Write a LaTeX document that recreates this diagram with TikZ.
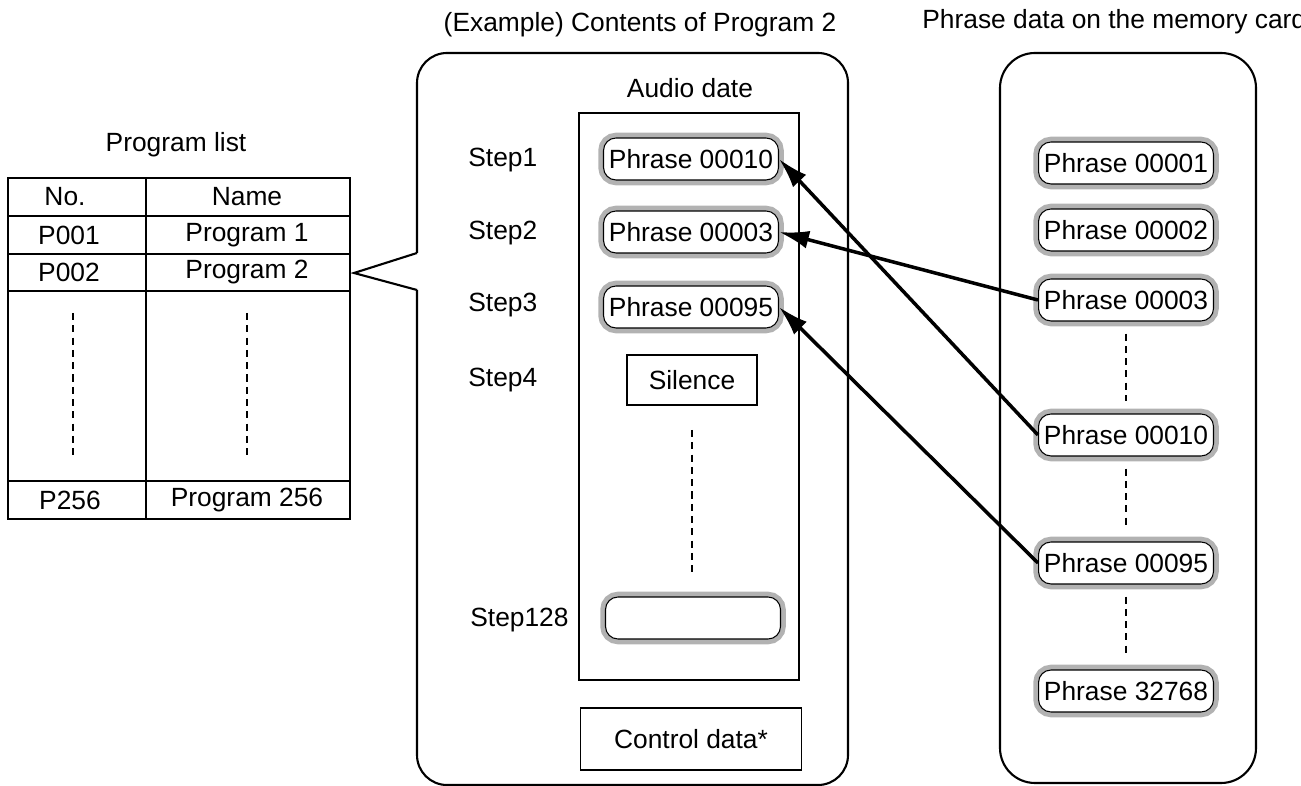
\documentclass[tikz,border=0pt]{standalone}
\usepackage{fontspec}
\setmainfont{Liberation Sans}
\usetikzlibrary{arrows.meta}

\begin{document}
\begin{tikzpicture}[
                   x = 0.02cm,
                   y = -0.02cm,
      every node/.style = {font=\fontsize{15}{18}\selectfont, inner sep=0pt},
          phrase/.style = {draw, line width=0.6pt, fill=white, rounded corners=0.25cm,
                           minimum width=3.5cm, minimum height=0.84cm,
                           preaction={draw=gray!60, line width=6pt}},
        plainbox/.style = {draw, line width=1pt},
            link/.style = {draw, line width=2pt, -{Latex[length=6mm,width=3.6mm]}},
            dots/.style = {line width=1pt, dash pattern=on 4pt off 3pt},
           frame/.style = {line width=1.2pt},
                     ]
\useasboundingbox (0,0) rectangle (1301,786);

% titles
\node (listtitle) at (176,145) {Program list};
\node (progtitle) at (640,25) {(Example) Contents of Program 2};
\node[anchor=west] (cardtitle) at (922,22) {Phrase data on the memory card};

% program list
\draw[plainbox] (8,178) rectangle (350,519);
\draw[plainbox] (146,178) -- (146,519);
\foreach \y in {216,254,291,481}
    \draw[plainbox] (8,\y) -- (350,\y);
\node (no)    at (65,197)  {No.};
\node (name)  at (247,197) {Name};
\node (p1no)  at (69,235)  {P001};
\node (p1)    at (247,235) {Program 1};
\node (p2no)  at (69,272)  {P002};
\node (p2)    at (247,272) {Program 2};
\node (p256no) at (70,500) {P256};
\node (p256)  at (247,500) {Program 256};
\draw[dots] (73,313) -- (73,455);
\draw[dots] (247,313) -- (247,455);

% program 2 callout
\draw[frame, rounded corners=0.6cm] (417,253) -- (417,53) -- (848,53)
    -- (848,785) -- (417,785) -- (417,290);
\draw[frame] (417,253) -- (354,273) -- (417,290);

\node (audiotitle) at (690,88) {Audio date};
\draw[plainbox] (579,113) rectangle (799,680);

\foreach \n/\y in {1/160,2/233,3/305,4/380}
    \node[anchor=west] (step\n) at (468,\y) {Step\n};
\node[anchor=west] (step128) at (470,620) {Step128};

\node[phrase] (s10) at (691,159) {Phrase 00010};
\node[phrase] (s03) at (691,232) {Phrase 00003};
\node[phrase] (s95) at (691,307) {Phrase 00095};
\node[plainbox, minimum width=2.6cm, minimum height=1cm] (silence) at (692,380) {Silence};
\node[phrase] (s128) at (693,618) {};
\draw[dots] (692,430) -- (692,572);
\node[plainbox, minimum width=4.42cm, minimum height=1.24cm] (control) at (691,739) {Control data*};

% memory card
\draw[frame, rounded corners=0.7cm] (1000,53) rectangle (1256,783);
\foreach \n/\y in {00001/163,00002/230,00003/300,00010/435,00095/563,32768/691}
    \node[phrase] (c\n) at (1126,\y) {Phrase \n};
\draw[dots, shorten <=0.24cm, shorten >=0.24cm] (c00003.south) -- (c00010.north);
\draw[dots, shorten <=0.24cm, shorten >=0.24cm] (c00010.south) -- (c00095.north);
\draw[dots, shorten <=0.24cm, shorten >=0.24cm] (c00095.south) -- (c32768.north);

% links
\draw[link] (c00003.west) -- (s03.east);
\draw[link] (c00010.west) -- (s10.east);
\draw[link] (c00095.west) -- (s95.east);
\end{tikzpicture}
\end{document}
